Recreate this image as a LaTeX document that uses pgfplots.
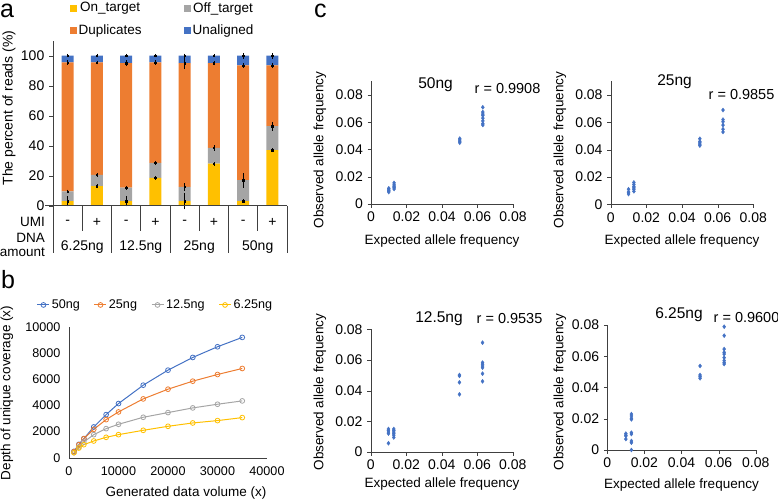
\documentclass[border=0pt]{standalone}
\usepackage{pgfplots}
\pgfplotsset{compat=1.18}
\usepackage{pgfplotstable}
\usepackage{fontspec}
\setmainfont{Liberation Sans}
\definecolor{cBlue}{HTML}{4472C4}
\definecolor{cOrange}{HTML}{ED7D31}
\definecolor{cGray}{HTML}{A5A5A5}
\definecolor{cYellow}{HTML}{FFC000}
\definecolor{axc}{HTML}{404040}

\pgfplotstableread{
x on off dup una
0 3 6.5 86 4.5
1 13 7.5 75 4.5
2 3 9 83 5
3 18.5 10 67 4.5
4 3 9.5 82.5 5
5 28 10.5 56.5 5
6 3 14 76.5 6.5
7 37 16 40.5 6.5
}\barsA

\pgfplotstableread{
x y e
0 3 2.5
0 9.5 0.4
0 95.5 0.5
0 100 0.3
1 13 0.4
1 20.5 0.4
1 95.5 0.4
1 100 0.3
2 3 2.5
2 12 0.4
2 95 1
2 100 0.3
3 18.5 0.4
3 28.5 0.5
3 95.5 0.5
3 100 0.3
4 3 4.5
4 12.5 1.5
4 95 3
4 100 0.5
5 28 0.4
5 38.5 1
5 95 0.6
5 100 0.3
6 3 0.3
6 17 4
6 93.5 0.8
6 100 1
7 37 0.4
7 53 2
7 93.5 1
7 100 1
}\errA

\pgfplotstableread{
x n50 n25 n12 n6
1000 485 460 383 383
2000 1020 995 816 740
3000 1454 1454 1199 995
5000 2347 2168 1760 1276
7500 3291 2908 2219 1556
10000 4133 3495 2551 1760
15000 5536 4490 3087 2092
20000 6684 5230 3444 2398
25000 7653 5842 3801 2653
30000 8469 6352 4082 2832
35000 9184 6811 4337 3061
}\linesB

\pgfplotsset{
  cscat/.style={
    scale only axis,
    anchor=south west,
    xmin=0, xmax=0.08, ymin=0,
    scaled ticks=false,
    xtick={0,0.02,0.04,0.06,0.08},
    xticklabels={0,0.02,0.04,0.06,0.08},
    ytick={0,0.02,0.04,0.06,0.08},
    yticklabels={0,0.02,0.04,0.06,0.08},
    axis lines=left, axis line style={-, axc},
    tick style={axc}, tick align=outside, major tick length=3.5pt,
    tick label style={font=\fontsize{14}{16}\selectfont},
    clip=false,
  },
  cmark/.style={only marks, mark=diamond*, mark size=2pt, color=cBlue},
}

\begin{document}
\fontsize{13.5}{16}\selectfont
\begin{tikzpicture}
\path[use as bounding box] (0pt,0pt) rectangle (778pt,-503pt);

% ---------------- panel a ----------------
\begin{axis}[
  at={(53pt,-205.7pt)}, anchor=south west, scale only axis,
  width=234pt, height=165pt,
  ybar stacked, bar width=12pt,
  xmin=-0.5, xmax=7.5, ymin=0, ymax=110,
  ytick={0,20,...,100}, xtick=\empty,
  axis x line=none, axis y line=left, axis line style={-, axc},
  tick style={axc}, tick align=outside, major tick length=4pt,
  /pgf/number format/assume math mode=true,
  tick label style={font=\fontsize{14}{16}\selectfont},
  area legend,
  legend columns=2,
  legend style={at={(0.468,1.128)}, anchor=center, draw=none, fill=none,
    font=\fontsize{13.5}{16}\selectfont,
    /tikz/every even column/.append style={column sep=40pt},
    row sep=7pt},
  legend image code/.code={\fill[#1] (0pt,-3.5pt) rectangle (7pt,3.5pt);},
]
\addplot[fill=cYellow, draw=none] table[x=x,y=on] \barsA;
\addlegendentry{On\_target}
\addplot[fill=cGray, draw=none] table[x=x,y=off] \barsA;
\addlegendentry{Off\_target}
\addplot[fill=cOrange, draw=none] table[x=x,y=dup] \barsA;
\addlegendentry{Duplicates}
\addplot[fill=cBlue, draw=none] table[x=x,y=una] \barsA;
\addlegendentry{Unaligned}
\end{axis}

\begin{axis}[
  at={(53pt,-205.7pt)}, anchor=south west, scale only axis,
  width=234pt, height=165pt,
  xmin=-0.5, xmax=7.5, ymin=0, ymax=110, hide axis, clip=false,
]
\addplot[only marks, mark=square*, mark size=0.7pt, black,
  error bars/.cd, y dir=both, y explicit,
  error bar style={black, line width=0.5pt},
  error mark options={black, mark size=1.3pt, line width=0.5pt}]
  table[x=x, y=y, y error=e] \errA;
\end{axis}

% table under panel a
\begin{scope}[axc, line width=0.7pt]
\draw (45pt,-205.7pt) -- (287pt,-205.7pt);
\foreach \xx in {53,111.5,170,228.5,287} \draw (\xx pt,-205.7pt) -- (\xx pt,-253pt);
\foreach \xx in {82.25,140.75,199.25,257.75} \draw (\xx pt,-205.7pt) -- (\xx pt,-231pt);
\end{scope}
\foreach \xx/\s in {67.6/-,96.9/+,126.1/-,155.4/+,184.6/-,213.9/+,243.1/-,272.4/+}
  \node[font=\fontsize{14}{16}\selectfont] at (\xx pt,-222pt) {\s};
\foreach \xx/\s in {82.25/6.25ng,140.75/12.5ng,199.25/25ng,257.75/50ng}
  \node[font=\fontsize{14}{16}\selectfont] at (\xx pt,-247pt) {\s};
\node[anchor=east, font=\fontsize{13.5}{16}\selectfont, inner sep=1pt] at (46pt,-222pt) {UMI};
\node[anchor=east, align=right, font=\fontsize{13.5}{14}\selectfont, inner sep=1pt] at (46pt,-245pt) {DNA\\amount};
\node[rotate=90, font=\fontsize{14}{16}\selectfont] at (9pt,-108pt) {The percent of reads (\%)};

% panel letters
\node[anchor=base west, font=\fontsize{25}{28}\selectfont, inner sep=0pt] at (0pt,-17.5pt) {a};
\node[anchor=base west, font=\fontsize{25}{28}\selectfont, inner sep=0pt] at (1pt,-288pt) {b};
\node[anchor=base west, font=\fontsize{25}{28}\selectfont, inner sep=0pt] at (314pt,-17.5pt) {c};

% ---------------- panel b ----------------
\begin{axis}[
  at={(69pt,-457.7pt)}, anchor=south west, scale only axis,
  width=198pt, height=131pt,
  xmin=0, xmax=40000, ymin=0, ymax=10000,
  xtick={0,10000,...,40000}, ytick={0,2000,...,10000},
  scaled ticks=false,
  /pgf/number format/.cd, fixed, 1000 sep={}, assume math mode=true, /pgfplots/.cd,
  axis lines=left, axis line style={-, axc},
  major tick length=0pt,
  tick label style={font=\fontsize{12.6}{15}\selectfont},
  yticklabel style={xshift=-4pt},
  xticklabel style={yshift=-4pt},
  legend columns=4,
  legend style={at={(0.437,1.166)}, anchor=center, draw=none, fill=none,
    font=\fontsize{12.6}{15}\selectfont,
    /tikz/every even column/.append style={column sep=12pt},
    inner sep=0pt},
  legend image code/.code={\draw[mark repeat=2, mark phase=2, #1] plot coordinates {(0pt,0pt) (6pt,0pt) (12pt,0pt)};},
]
\addplot[color=cBlue, line width=1pt, mark=o, mark size=2.4pt, mark options={line width=0.8pt}] table[x=x,y=n50] \linesB;
\addlegendentry{50ng}
\addplot[color=cOrange, line width=1pt, mark=o, mark size=2.4pt, mark options={line width=0.8pt}] table[x=x,y=n25] \linesB;
\addlegendentry{25ng}
\addplot[color=cGray, line width=1pt, mark=o, mark size=2.4pt, mark options={line width=0.8pt}] table[x=x,y=n12] \linesB;
\addlegendentry{12.5ng}
\addplot[color=cYellow, line width=1pt, mark=o, mark size=2.4pt, mark options={line width=0.8pt}] table[x=x,y=n6] \linesB;
\addlegendentry{6.25ng}
\end{axis}
\node[rotate=90] at (7pt,-393pt) {Depth of unique coverage (x)};
\node at (186pt,-492.7pt) {Generated data volume (x)};

% ---------------- panel c ----------------
% 50ng
\begin{axis}[cscat, at={(371pt,-204pt)}, width=142pt, height=122.6pt, ymax=0.09]
\addplot[cmark] coordinates {
(0.01,0.0088)(0.01,0.0095)(0.01,0.010)(0.01,0.011)(0.01,0.0115)
(0.013,0.011)(0.013,0.012)(0.013,0.013)(0.013,0.014)(0.013,0.0155)
(0.05,0.045)(0.05,0.046)(0.05,0.047)(0.05,0.048)
(0.063,0.058)(0.063,0.059)(0.063,0.061)(0.063,0.063)(0.063,0.065)(0.063,0.066)(0.063,0.0675)(0.063,0.071)
};
\end{axis}
\node[font=\fontsize{15.5}{18}\selectfont] at (435.5pt,-85pt) {50ng};
\node[font=\fontsize{14.5}{17}\selectfont] at (507.5pt,-89pt) {r = 0.9908};
\node[rotate=90] at (320pt,-150pt) {Observed allele frequency};
\node at (442pt,-240.7pt) {Expected allele frequency};

% 25ng
\begin{axis}[cscat, at={(610.7pt,-204.3pt)}, width=142.6pt, height=122.9pt, ymax=0.09]
\addplot[cmark] coordinates {
(0.01,0.0075)(0.01,0.0085)(0.01,0.009)(0.01,0.011)
(0.013,0.0095)(0.013,0.011)(0.013,0.012)(0.013,0.013)(0.013,0.0145)(0.013,0.016)
(0.05,0.043)(0.05,0.044)(0.05,0.045)(0.05,0.046)(0.05,0.048)
(0.063,0.053)(0.063,0.055)(0.063,0.058)(0.063,0.0605)(0.063,0.062)(0.063,0.069)
};
\end{axis}
\node[font=\fontsize{15.5}{18}\selectfont] at (674.5pt,-82pt) {25ng};
\node[font=\fontsize{14.5}{17}\selectfont] at (741.5pt,-95pt) {r = 0.9855};
\node[rotate=90] at (560pt,-150pt) {Observed allele frequency};
\node at (682pt,-240.7pt) {Expected allele frequency};

% 12.5ng
\begin{axis}[cscat, at={(370.7pt,-452pt)}, width=142pt, height=122.7pt, ymax=0.08]
\addplot[cmark] coordinates {
(0.01,0.0057)(0.01,0.012)(0.01,0.013)(0.01,0.014)(0.01,0.015)
(0.013,0.0095)(0.013,0.011)(0.013,0.012)(0.013,0.013)(0.013,0.014)(0.013,0.015)
(0.05,0.0376)(0.05,0.0454)(0.05,0.0496)(0.05,0.0502)
(0.063,0.0461)(0.063,0.0511)(0.063,0.055)(0.063,0.0561)(0.063,0.0572)(0.063,0.0583)(0.063,0.0713)
};
\end{axis}
\node[font=\fontsize{15.5}{18}\selectfont] at (439pt,-319pt) {12.5ng};
\node[font=\fontsize{14.5}{17}\selectfont] at (509.5pt,-319pt) {r = 0.9535};
\node[rotate=90] at (320pt,-392pt) {Observed allele frequency};
\node at (442pt,-484pt) {Expected allele frequency};

% 6.25ng
\begin{axis}[cscat, at={(607.3pt,-450pt)}, width=148.4pt, height=125pt, ymax=0.08]
\addplot[cmark] coordinates {
(0.01,0.007)(0.01,0.009)(0.01,0.0095)(0.01,0.0105)
(0.013,0.0)(0.013,0.0047)(0.013,0.0058)(0.013,0.0102)(0.013,0.0111)(0.013,0.0196)(0.013,0.0203)(0.013,0.0218)(0.013,0.023)
(0.05,0.0459)(0.05,0.0469)(0.05,0.048)(0.05,0.0538)
(0.063,0.055)(0.063,0.0559)(0.063,0.0572)(0.063,0.0591)(0.063,0.0614)(0.063,0.0625)(0.063,0.0646)(0.063,0.0732)(0.063,0.0789)
};
\end{axis}
\node[font=\fontsize{15.5}{18}\selectfont] at (679pt,-315pt) {6.25ng};
\node[font=\fontsize{14.5}{17}\selectfont] at (746.5pt,-317.7pt) {r = 0.9600};
\node[rotate=90] at (560pt,-392pt) {Observed allele frequency};
\node at (681.5pt,-485pt) {Expected allele frequency};

\end{tikzpicture}
\end{document}
